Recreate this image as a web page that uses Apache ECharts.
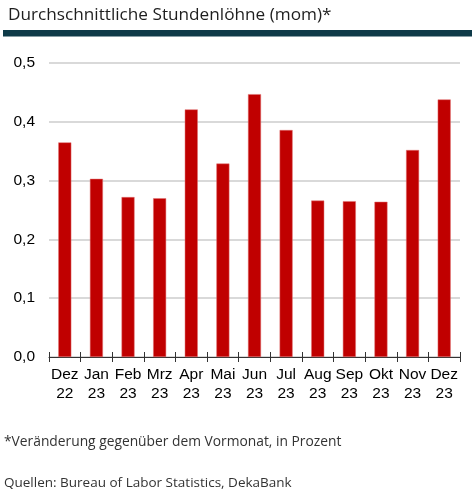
<!DOCTYPE html>
<html><head><meta charset="utf-8">
<script src="https://cdn.jsdelivr.net/npm/echarts@6/dist/echarts.min.js"></script>
<style>html,body{margin:0;padding:0;background:#fff}#c{width:475px;height:497px}</style>
</head><body><div id="c"></div>
<script>
var categories = ['Dez\n22','Jan\n23','Feb\n23','Mrz\n23','Apr\n23','Mai\n23','Jun\n23','Jul\n23','Aug\n23','Sep\n23','Okt\n23','Nov\n23','Dez\n23'];
var values = [0.365, 0.303, 0.272, 0.270, 0.421, 0.329, 0.447, 0.386, 0.266, 0.265, 0.264, 0.352, 0.438];
var titleText = 'Durchschnittliche Stundenlöhne (mom)*';
var footnote = '*Veränderung gegenüber dem Vormonat, in Prozent';
var sourceText = 'Quellen: Bureau of Labor Statistics, DekaBank';

var chart = echarts.init(document.getElementById('c'), null, {renderer:'canvas'});
chart.setOption({
  animation: false,
  title: {text: titleText, left: 3, top: 2, textStyle: {fontFamily: 'Open Sans', fontSize: 17.2, fontWeight: 'normal', color: '#1e1e1e'}},
  graphic: [
    {type:'rect', shape:{x:3, y:30, width:469, height:6.5}, style:{fill:'#0e3a48'}},
    {type:'text', left: 4, top: 435, style:{text: footnote, font: '13.8px "Open Sans"', fill:'#333'}},
    {type:'text', left: 4, top: 476, style:{text: sourceText, font: '13.5px "Open Sans"', fill:'#333'}}
  ],
  grid: {left: 49, right: 15, top: 63, bottom: 140},
  xAxis: [{
    type: 'category', data: categories,
    axisLine: {lineStyle: {color: '#333', width: 1}},
    axisTick: {show: true, length: 5, lineStyle: {color: '#333'}},
    axisLabel: {fontFamily: 'Arial, Liberation Sans', fontSize: 15.5, color: '#000', lineHeight: 19, margin: 8, interval: 0}
  }, {
    type: 'category', data: categories, position: 'bottom',
    axisLine: {show: false},
    axisTick: {show: true, inside: true, length: 5, lineStyle: {color: '#333'}},
    axisLabel: {show: false}
  }],
  yAxis: {
    type: 'value', min: 0, max: 0.5, interval: 0.1,
    axisLine: {show: false}, axisTick: {show: false},
    splitLine: {lineStyle: {color: '#d9d9d9', width: 2}},
    axisLabel: {fontFamily: 'Arial, Liberation Sans', fontSize: 15.5, color: '#000', margin: 14,
      formatter: function(v){ return v.toFixed(1).replace('.', ','); }}
  },
  series: [{
    type: 'bar', data: values, barWidth: 13, xAxisIndex: 0,
    itemStyle: {color: '#c00000', borderColor: '#e07070', borderWidth: 0.5}
  }]
});
</script></body></html>
